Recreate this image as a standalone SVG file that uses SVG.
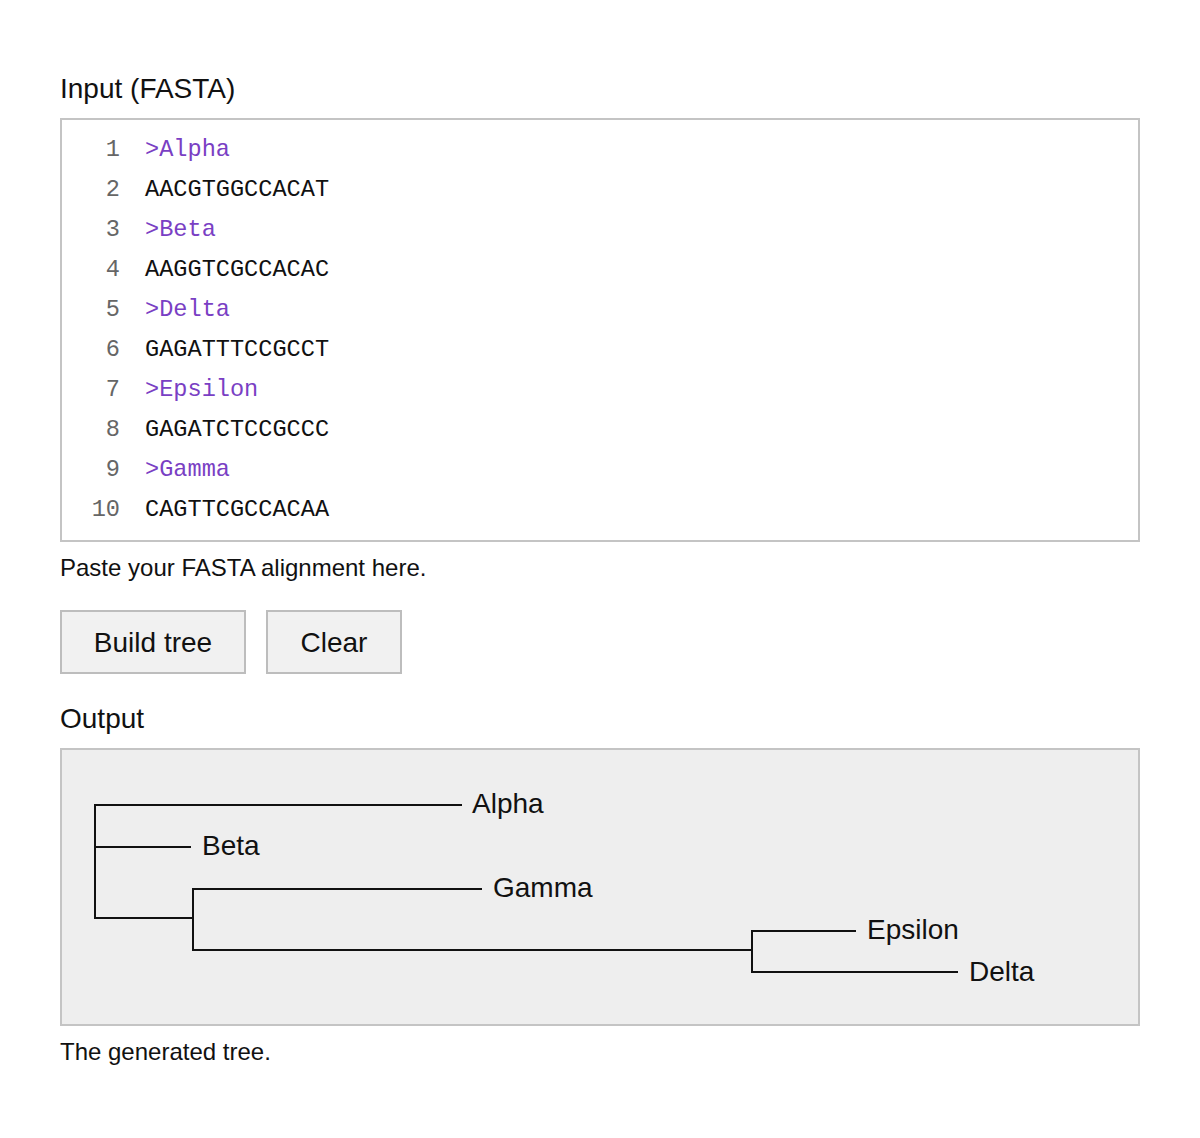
<svg xmlns="http://www.w3.org/2000/svg" width="1200" height="1138" viewBox="0 0 1200 1138">
<style>
.h{font-family:"Liberation Sans",Arial,sans-serif;font-size:28px;fill:#111}
.s{font-family:"Liberation Sans",Arial,sans-serif;font-size:24px;fill:#111}
.m{font-family:"Liberation Mono","DejaVu Sans Mono",monospace;font-size:23.6px}
.n{fill:#666;text-anchor:end}
.k{fill:#7a3fc4}
.q{fill:#111}
.btn{fill:#f1f1f1;stroke:#bdbdbd;stroke-width:2}
.t{font-family:"Liberation Sans",Arial,sans-serif;font-size:28px;fill:#111}
.e{stroke:#111;stroke-width:2;fill:none}
</style>
<rect width="1200" height="1138" fill="#fff"/>
<text class="h" x="60" y="98">Input (FASTA)</text>
<rect x="61" y="119" width="1078" height="422" fill="#fff" stroke="#c4c4c4" stroke-width="2"/>
<g class="m">
<text class="n" x="120" y="156">1</text><text class="k" x="145" y="156">&gt;Alpha</text>
<text class="n" x="120" y="196">2</text><text class="q" x="145" y="196">AACGTGGCCACAT</text>
<text class="n" x="120" y="236">3</text><text class="k" x="145" y="236">&gt;Beta</text>
<text class="n" x="120" y="276">4</text><text class="q" x="145" y="276">AAGGTCGCCACAC</text>
<text class="n" x="120" y="316">5</text><text class="k" x="145" y="316">&gt;Delta</text>
<text class="n" x="120" y="356">6</text><text class="q" x="145" y="356">GAGATTTCCGCCT</text>
<text class="n" x="120" y="396">7</text><text class="k" x="145" y="396">&gt;Epsilon</text>
<text class="n" x="120" y="436">8</text><text class="q" x="145" y="436">GAGATCTCCGCCC</text>
<text class="n" x="120" y="476">9</text><text class="k" x="145" y="476">&gt;Gamma</text>
<text class="n" x="120" y="516">10</text><text class="q" x="145" y="516">CAGTTCGCCACAA</text>
</g>
<text class="s" x="60" y="576">Paste your FASTA alignment here.</text>
<g id="btn-build"><rect class="btn" x="61" y="611" width="184" height="62"/><text class="h" x="153" y="652" text-anchor="middle">Build tree</text></g>
<g id="btn-clear"><rect class="btn" x="267" y="611" width="134" height="62"/><text class="h" x="334" y="652" text-anchor="middle">Clear</text></g>
<text class="h" x="60" y="728">Output</text>
<rect x="61" y="749" width="1078" height="276" fill="#eeeeee" stroke="#c4c4c4" stroke-width="2"/>
<g id="connectors" class="e">
<path d="M462 805H95V918H193M95 847H191M482 889H193V950H752M856 931H752V972H958"/>
</g>
<g id="n-alpha"><text class="t" x="472" y="813">Alpha</text></g>
<g id="n-beta"><text class="t" x="202" y="855">Beta</text></g>
<g id="n-gamma"><text class="t" x="493" y="897">Gamma</text></g>
<g id="n-epsilon"><text class="t" x="867" y="939">Epsilon</text></g>
<g id="n-delta"><text class="t" x="969" y="981">Delta</text></g>
<text class="s" x="60" y="1060">The generated tree.</text>
</svg>
